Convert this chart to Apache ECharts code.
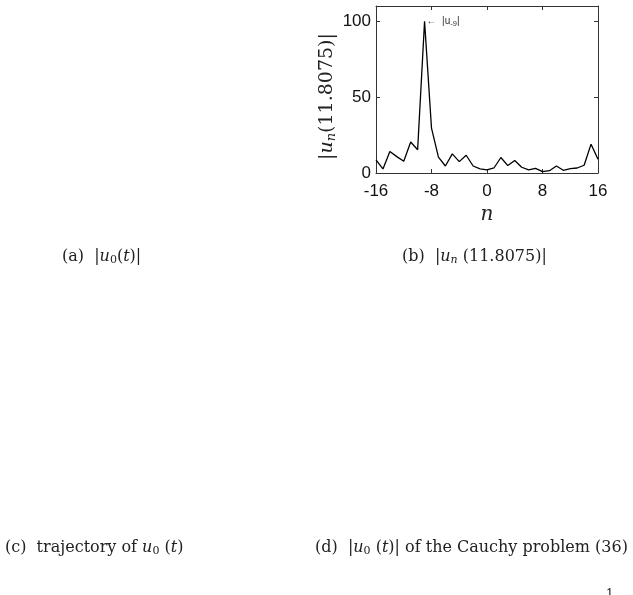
<!DOCTYPE html>
<html><head><meta charset="utf-8">
<script src="https://cdn.jsdelivr.net/npm/echarts@6/dist/echarts.min.js"></script>
<style>html,body{margin:0;padding:0;background:#fff}#c{width:633px;height:595px}</style>
</head><body><div id="c"></div>
<script>
const nValues = [-16,-15,-14,-13,-12,-11,-10,-9,-8,-7,-6,-5,-4,-3,-2,-1,0,1,2,3,4,5,6,7,8,9,10,11,12,13,14,15,16];
const magnitudes = [8.6,2.7,14.1,10.8,7.7,20.4,15.3,100,29.5,10.4,4.6,12.6,7.5,11.7,4.6,2.7,2.0,3.3,10.2,4.9,8.2,3.8,2.0,3.1,0.9,1.5,4.6,1.8,2.9,3.3,5.1,19.0,9.0];
const xTicks = [-16,-8,0,8,16];
const yTicks = [0,50,100];
const peak = [-9, 100];

const serif = '"DejaVu Serif", "Liberation Serif", serif';
const sans = '"Liberation Sans", Arial, sans-serif';
const chart = echarts.init(document.getElementById('c'));
const mathRich = {
  t: {fontFamily: serif, fontSize: 16, color: '#222'},
  i: {fontFamily: serif, fontSize: 16, fontStyle: 'italic', color: '#222'},
  s: {fontFamily: serif, fontSize: 11, color: '#222', padding: [7,0,0,0]},
  si: {fontFamily: serif, fontSize: 11, fontStyle: 'italic', color: '#222', padding: [7,0,0,0]}
};
function cap(x, y, text) {
  return {type: 'text', left: x, top: y, style: {text: text, rich: mathRich, font: '16px ' + serif, fill: '#222'}};
}
const lineSt = {color: '#333', width: 1};
chart.setOption({
  animation: false,
  grid: {left: 376, right: 35, top: 6, bottom: 422, containLabel: false},
  xAxis: [{
    type: 'value', min: -16, max: 16, interval: 8,
    name: 'n', nameLocation: 'middle', nameGap: 32,
    nameTextStyle: {fontFamily: serif, fontStyle: 'italic', fontSize: 20, color: '#222'},
    axisLine: {show: true, onZero: false, lineStyle: lineSt},
    axisTick: {inside: true, length: 4, lineStyle: {color: '#333'}},
    axisLabel: {fontFamily: sans, fontSize: 17, color: '#111', margin: 10},
    splitLine: {show: false}
  }, {
    type: 'value', min: -16, max: 16, interval: 8, position: 'top',
    axisLine: {show: true, onZero: false, lineStyle: lineSt},
    axisTick: {inside: true, length: 4, lineStyle: {color: '#333'}},
    axisLabel: {show: false}, splitLine: {show: false}
  }],
  yAxis: [{
    type: 'value', min: 0, max: 110, interval: 50, position: 'left',
    name: '{t||}{i|u}{si|n}{t|(11.8075)|}', nameLocation: 'middle', nameGap: 38, nameRotate: 90,
    nameTextStyle: {padding: [0, 14, 0, 0], rich: {
      t: {fontFamily: serif, fontSize: 19, color: '#222'},
      i: {fontFamily: serif, fontSize: 19, fontStyle: 'italic', color: '#222'},
      si: {fontFamily: serif, fontSize: 13, fontStyle: 'italic', color: '#222', padding: [9,0,0,0]}
    }},
    axisLine: {show: true, onZero: false, lineStyle: lineSt},
    axisTick: {show: true, inside: true, length: 4, lineStyle: {color: '#333'}},
    axisLabel: {fontFamily: sans, fontSize: 17, color: '#111', margin: 5,
      formatter: v => (yTicks.indexOf(v) >= 0 ? String(v) : '')},
    splitLine: {show: false}
  }, {
    type: 'value', min: 0, max: 110, interval: 50, position: 'right',
    axisLine: {show: true, onZero: false, lineStyle: lineSt},
    axisTick: {show: true, inside: true, length: 4, lineStyle: {color: '#333'}},
    axisLabel: {show: false}, splitLine: {show: false}
  }],
  series: [{
    type: 'line',
    data: nValues.map((n, k) => [n, magnitudes[k]]),
    symbol: 'none', lineStyle: {color: '#000', width: 1.3},
    markPoint: {
      symbol: 'circle', symbolSize: 0,
      data: [{coord: peak}],
      label: {
        show: true, position: 'right', distance: 2, offset: [0, 0],
        formatter: '{a|←  |u}{b|-9}{a||}',
        rich: {
          a: {fontFamily: sans, fontSize: 10, color: '#333'},
          b: {fontFamily: sans, fontSize: 7.5, color: '#333', padding: [5,0,0,0]}
        }
      }
    }
  }],
  graphic: [
    cap(62, 249, '{t|(a)  |}{i|u}{s|0}{t|(}{i|t}{t|)|}'),
    cap(402, 249, '{t|(b)  |}{i|u}{si|n}{t| (11.8075)|}'),
    cap(5, 540, '{t|(c)  trajectory of }{i|u}{s|0}{t| (}{i|t}{t|)}'),
    cap(315, 540, '{t|(d)  |}{i|u}{s|0}{t| (}{i|t}{t|)| of the Cauchy problem (36)}'),
    {type: 'text', left: 606, top: 589, style: {text: '1', font: '12px ' + serif, fill: '#222'}}
  ]
});
</script></body></html>
